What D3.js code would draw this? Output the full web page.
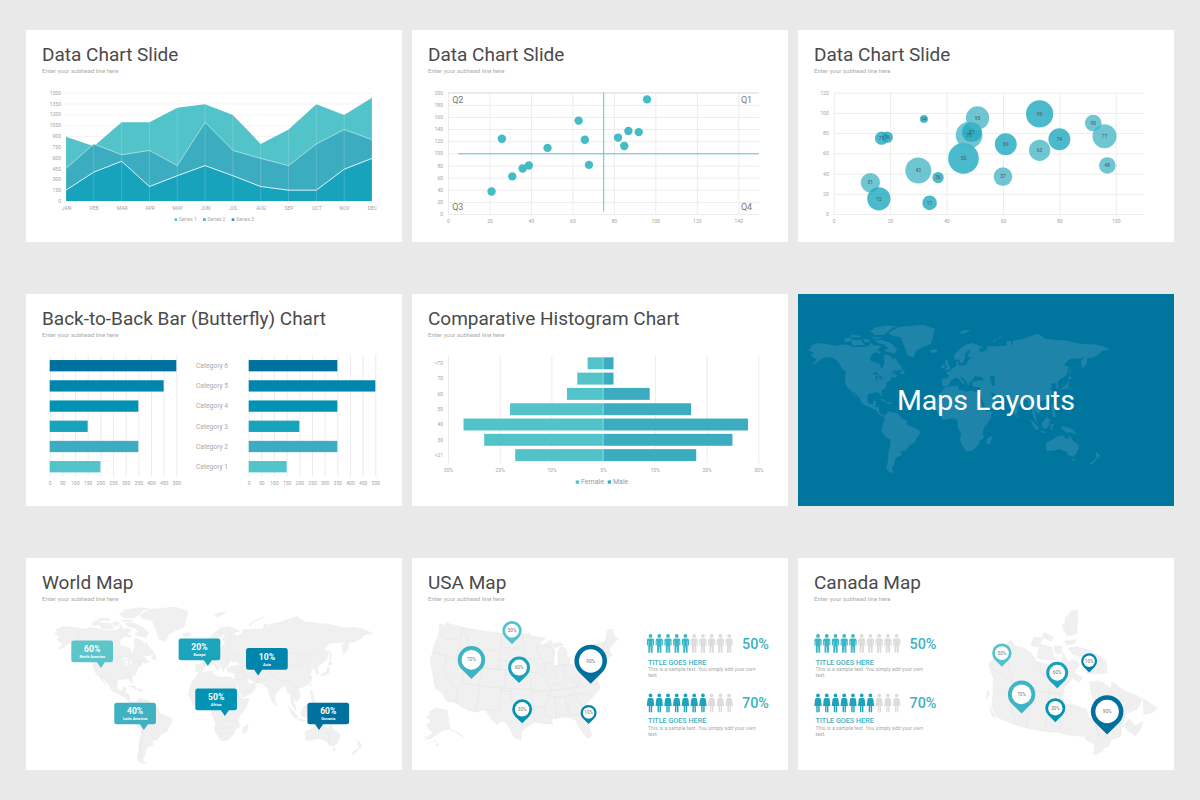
<!DOCTYPE html>
<html><head><meta charset="utf-8">
<script src="https://cdn.jsdelivr.net/npm/d3@7"></script>
<style>
html,body{margin:0;padding:0;background:#e9e9e9}
svg{display:block}
text{font-family:Roboto,sans-serif}
</style></head><body>
<svg id="c" width="1200" height="800"></svg>
<script>
/* ---------- palette ---------- */
const teal = ["#51c3c9","#3cadc0","#18a3bc","#0093b4","#0086ac","#00709e"];

/* ---------- panel 1: area chart ---------- */
const months = ["JAN","FEB","MAR","APR","MAY","JUN","JUL","AUG","SEP","OCT","NOV","DEC"];
const series1 = [890,760,1090,1090,1290,1340,1190,790,990,1340,1190,1430];
const series2 = [450,790,640,700,490,1090,700,590,490,790,990,850];
const series3 = [150,400,550,200,350,490,350,200,150,150,440,590];
const areaTicks = [0,150,300,450,600,750,900,1050,1200,1350,1500];

/* ---------- panel 2: quadrant scatter ---------- */
const scatterX = [96,63,26,66,82,87,92,85,48,68,39,36,31,21];
const scatterY = [189,154,124,122.5,126,137,135,112,109,81,80,75,62,37];
const quadrantNames = ["Q1","Q2","Q3","Q4"];

/* ---------- panel 3: bubbles ---------- */
const bubbleX = [13,16,17,19,32,30,37,34,46,48,49,51,60,61,73,73,80,92,96,97];
const bubbleY = [31,15,75,76,94,43,36,11,55,78,81,95,37,69,99,63,74,90,77,48];
const bubbleSize = [29,35,20,17,12,39,17,22,46,40,30,35,28,33,41,32,33,25,36,25];
const bubbleShade = [0,1,1,1,1,0,1,1,1,0,1,0,0,1,1,0,1,0,0,0];

/* ---------- panel 4: butterfly ---------- */
const butterflyCats = ["Category 6","Category 5","Category 4","Category 3","Category 2","Category 1"];
const butterflyLeft = [500,450,350,150,350,200];
const butterflyRight = [350,500,350,200,350,150];

/* ---------- panel 5: comparative histogram ---------- */
const ageGroups = [">70","70","60","50","40","30","<21"];
const female = [3,5,7,18,27,23,17];
const male = [2,2,9,17,28,25,18];

/* ---------- map callouts and pins ---------- */
const worldPct = ["60%","20%","10%","50%","40%","60%"];
const worldNames = ["North America","Europe","Asia","Africa","Latin America","Oceania"];
const worldTips = [[-115.6,40],[4.6,41.6],[61.2,33.5],[23.8,-3],[-67.3,-20],[129.7,-20]];
const worldShade = ["#5cc5ca","#1da4bd","#0086ac","#0093b4","#3fb1c2","#00709e"];
const worldTail = [0.71,0.70,0.29,0.71,0.71,0.28];

const usaPins = [[-100.5,46.7],[-111.5,38.2],[-98,38.3],[-78,36.8],[-97,29.5],[-80.4,28.2]];
const canadaPins = [[-134,62],[-113.5,52.5],[-97.5,61.5],[-76,46.7],[-97.5,51.8],[-76,65]];
const pinLabels = ["50%","70%","60%","90%","30%","10%"];
const pinSizes = [9.7,13.7,11,16.3,10,8];
const pinShade = ["#51c3c9","#3fb4c4","#18a3bc","#00709e","#0093b4","#0086ac"];

const peopleRows = [{pct:"50%",on:5,kind:"m"},{pct:"70%",on:7,kind:"f"}];

/* ---------- land outlines, lon/lat ---------- */
const northAmerica = [[-168,65.5],[-164,67],[-166,68.5],[-157,71],[-150,70.5],[-141,69.6],[-135,69],[-128,70],[-120,69.5],[-115,68],[-108,68],[-101,68],[-95,69],[-94,72],[-90,69],[-85,69.5],[-81,68],[-86,66],[-88,64],[-93,62],[-94.5,59],[-92.5,57],[-88,56.5],[-82.5,55],[-82,52.5],[-79.5,51.5],[-79,54],[-77,56],[-78,59],[-77.5,62.3],[-73,62],[-70,61],[-67,58.5],[-65,60],[-61,56],[-57,53],[-56,51.5],[-60,50],[-66,50],[-70,47],[-65,48.5],[-64.5,46],[-61,46],[-63.5,44.5],[-66,43.5],[-67,45],[-70,43.5],[-70.5,41.7],[-74,40.5],[-75.5,38],[-76,35],[-78,34],[-81,32],[-80.5,28],[-80.2,25.3],[-81.5,25.5],[-82.8,28],[-84,30],[-89,30],[-90,29],[-94,29.5],[-97,28],[-97.7,24],[-97,20],[-94.5,18],[-91,18.5],[-90.5,21],[-87,21.5],[-88,17],[-88.5,15.8],[-84,15.8],[-83.5,11],[-81,9],[-78,9.3],[-77.5,8],[-80,7.3],[-85,10],[-87.5,13],[-92,14.5],[-96,16],[-102,18],[-105.5,20],[-106,23],[-109,26],[-112.5,30],[-114.7,31.5],[-112,26.5],[-110,23],[-112,25],[-115,29],[-117,32.5],[-120.5,34.5],[-122.5,37.5],[-124,40],[-124,46],[-123,49],[-127,51],[-130,54.5],[-134,58],[-140,60],[-146,60.5],[-152,59],[-158,56],[-164,54.5],[-158,58.5],[-162,60],[-165,62],[-161,64]];
const southAmerica = [[-77.5,8],[-72,12],[-68,11],[-62,10.5],[-57,6],[-51,4],[-50,0],[-44,-2.5],[-37,-5],[-35,-8],[-39,-15],[-41,-22],[-48,-26],[-49,-29],[-53,-34],[-58,-34.5],[-57,-38],[-62,-39],[-65,-42],[-66,-47],[-69,-51],[-65,-55],[-72,-54],[-75,-50],[-73,-42],[-73,-37],[-71,-30],[-70,-18],[-76,-14],[-81,-6],[-80,-2],[-79,1],[-77.5,4]];
const africa = [[-6,35.5],[3,37],[10,37.3],[11,33.5],[20,31],[25,32],[32,31],[34.5,28],[37,21],[39,15.5],[43,11.5],[51,12],[48,5],[41,-2],[39,-7],[40.5,-15],[35,-20],[35,-24],[32,-28],[27,-34],[20,-35],[18,-33],[15,-27],[12,-17],[13.5,-10],[9,-1],[9.5,4],[5,6],[-4,5],[-8,4.5],[-13,9],[-17,14.5],[-16,20],[-13,27],[-9.5,31]];
const eurasia = [[-9,37],[-9,43],[-2,43.5],[-1,46],[-4.5,48.3],[1.5,50.5],[4,52],[8,54],[8,57],[10.5,57.5],[10,54.5],[14,54],[19,54.5],[21,57],[24,59.3],[30,60],[23,60],[21,62],[25,65.5],[22,65.5],[17.5,62],[18.5,60],[16,56],[13,55.5],[11,59],[6,58],[5,62],[13,67],[20,70],[28,71],[40,67.5],[34,66.5],[37,64],[44,66],[44,68.5],[54,68.5],[60,69],[67,69],[68,72.5],[73,72],[75,68],[75,72.5],[85,73.5],[100,76.5],[105,77.5],[113,74],[128,73],[140,72.5],[150,71],[160,70],[170,70],[180,69],[190,66],[180,65],[177,62.5],[170,60],[163,59.5],[162,55],[157,51],[155.5,57],[160,61],[155,59.5],[142,59],[135,54.5],[141,53],[138,46],[130,42.5],[127.5,39.5],[129.5,36],[126.5,34.5],[126,37.5],[125,39.7],[121,39],[118,39],[122,37],[119,35],[122,31],[121,28],[117,23.5],[110,21],[106,20],[109,14],[105,9],[100,13.5],[103,5],[104,1.5],[100,6],[98,10],[97.5,16],[94,17],[92,21.5],[89,22],[86,20],[80.5,15.5],[80,10],[77.5,8],[74,15],[72.5,20],[69,22],[67,25],[61,25.5],[57,26],[56,27],[50,30],[48,30],[51,25],[54,24.3],[56,26],[59.7,22.5],[55,17],[45,13],[43,13],[39,21],[35,28],[34.5,31],[36,36],[30,36.3],[27,37],[26.5,40],[29,41],[35,42],[41,41.5],[37,45],[33,44.8],[30,46],[28,43],[26,40.8],[23,40],[22.7,36.7],[19.5,41],[14,45],[12.5,44],[18,40],[16,38],[12,42],[8.5,44],[3,43],[0,39.5],[-2,37],[-6,36.3]];
const australia = [[114,-22],[122,-18],[126,-14],[130,-12],[136,-12],[136,-15],[140,-17.5],[142,-11],[146,-19],[153,-26],[153,-31],[150,-37],[146,-39],[141,-38],[138,-35],[135,-34.5],[131,-31.5],[124,-33.5],[115,-34.5],[114,-26]];
const greenland = [[-73,78],[-60,82],[-32,83.5],[-18,81],[-20,75],[-22,70.5],[-32,68],[-40,65],[-43,60],[-50,62],[-54,69],[-58,75],[-68,76]];
const arcticIslands = [
 [[-80,73],[-72,71.5],[-68,70],[-62,66.5],[-65,63],[-72,64],[-78,65],[-73,67],[-78,70],[-85,71],[-89,73]],
 [[-117,73],[-105,73],[-101,69.5],[-115,69]],
 [[-125,74],[-116,75],[-118,72],[-124,71.5]],
 [[-90,76.5],[-78,76.5],[-68,81.5],[-62,82.5],[-75,83],[-90,81.5]],
 [[-92,75],[-80,75],[-82,74],[-91,74]],
 [[-117,76.5],[-106,76],[-106,74.8],[-117,75]],
 [[-86,65.8],[-81,64],[-84,62.8],[-87,64]],
 [[-103,73.5],[-95,73.5],[-96,71.5],[-101,71.5]],
 [[-95,79.5],[-88,80.5],[-86,78],[-92,77.5]]
];
const otherIslands = [
 [[-59,47.7],[-55.5,51.5],[-53,47],[-55.5,46.8]],
 [[-84.5,22],[-80,23],[-74.5,20.2],[-77.5,19.9],[-82,22.2]],
 [[-74,19.8],[-69,19.5],[-68.5,18.4],[-74,18.2]],
 [[-24,65.5],[-16,66.4],[-14,65],[-19,63.4],[-22.5,64]],
 [[-5.5,50.2],[1.5,51.3],[0,53.5],[-2,56],[-2,57.7],[-5,58.5],[-5.5,55],[-3,53.5],[-5,52]],
 [[-10,52],[-6,52.2],[-6,55],[-10,54]],
 [[15,77],[25,80],[18,80],[12,78.5]],
 [[52,71],[56,74],[68,77],[58,75],[52,72.5]],
 [[131,33],[136,33.5],[141,36],[141.5,40],[140,41],[138,37],[133,35.5]],
 [[140,42],[145,43.5],[142,45.5]],
 [[142,46],[143.5,50],[142.5,54],[142,50]],
 [[120,22],[122,25],[120,24]],
 [[120,18.5],[122,18],[124,13],[126,7],[122,7],[121,14]],
 [[95,5.5],[100,2],[106,-3],[104,-6],[100,-3]],
 [[105,-6],[110,-6.5],[115,-8],[110,-8.5]],
 [[109,1.5],[115,7],[119,5],[118,1],[115,-4],[110,-3]],
 [[119.5,0.5],[125,1.5],[122,-1],[122,-5],[120,-5.5]],
 [[131,-1],[137,-2],[141,-2.5],[147,-6],[150.5,-10.5],[144,-8],[138,-8],[133,-4]],
 [[80,9.5],[82,7.5],[81,6],[80,7]],
 [[44,-17],[49.5,-12],[50,-16],[47,-25],[44,-24]],
 [[172.7,-34.5],[178,-38],[175,-41.5],[174,-39]],
 [[173,-41],[174,-42],[168,-47],[166.5,-45.8]],
 [[145,-41],[148,-41],[147,-43.5],[146,-43.5]]
];
const lakes = [
 [[47,45],[53,46],[53,40],[54,37],[50,37],[49,41]],
 [[-92,47],[-88,49],[-85,47.5],[-85,46.7],[-88,46.8]],
 [[-87.7,46],[-85,45.7],[-86,42],[-87.6,41.7]],
 [[-84,46],[-80,45],[-82,43],[-83.5,44]],
 [[-83,42],[-79,42.8],[-79,43.4],[-76,44],[-79,43.8],[-82.5,42.5]]
];
const worldBorders = [
 [[-123,49],[-95,49],[-89,48],[-84,46],[-82.5,42],[-79,43],[-75,45],[-71,45],[-68,47.3],[-67,45]],
 [[-141,69.6],[-141,60],[-134,58]],
 [[-117,32.5],[-111,31.3],[-106.5,31.8],[-103,29],[-99.5,27.5],[-97.2,26]],
 [[-92,14.5],[-91,17],[-88,18]],
 [[-51,4],[-60,5],[-60,1],[-70,2],[-70,-4],[-74,-7],[-70,-11],[-65,-10],[-60,-14],[-58,-20],[-55,-24],[-54,-27],[-57,-30],[-53,-34]],
 [[-69,-18],[-67,-23],[-70,-33],[-72,-50],[-69,-52]],
 [[-70,-4],[-75,-1],[-79,-3]],
 [[-72,12],[-72,7],[-67,6],[-67,1.5]],
 [[-13,27],[-9,27],[-5,25],[3,19],[12,23],[25,20],[25,32]],
 [[25,22],[37,22]],[[3,19],[3,12]],[[15,23],[15,13],[9,4]],
 [[24,20],[24,10],[30,4],[41,4]],[[12,-5],[30,-8],[40,-11]],
 [[12,-17],[24,-18],[33,-15]],[[20,-18],[20,-29],[17,-29]],[[25,-25],[32,-26]],
 [[30,60],[29,70]],[[24,54],[32,52],[40,50],[48,46]],
 [[50,42],[60,43],[70,41],[80,42],[85,49],[87,49],[100,52],[115,50],[125,53],[135,48],[131,43]],
 [[87,49],[97,42],[110,43],[120,47]],
 [[80,42],[74,37],[78,32],[88,28],[97,28],[99,22],[106,22]],
 [[44,38],[46,32],[48,30]],[[61,25],[61,36],[54,37]],[[61,30],[70,28],[74,37]],
 [[36,36],[44,37],[44,40],[41,41.5]],[[35,29],[48,29]],[[43,17],[52,19],[56,23]],
 [[-2,43.5],[3,43]],[[2,51],[8,48],[14,46],[8,45]],[[8,54],[14,51],[24,50],[28,45]],
 [[129,-15],[129,-31]],[[138,-17],[138,-26],[141,-26],[141,-38]]
];

const usaOutline = [[-124.7,48.4],[-123,48.3],[-122.8,49],[-95.2,49],[-95.1,49.4],[-94.6,48.7],[-92,48.3],[-89.6,48],[-92,46.7],[-90.5,46.6],[-88,47.5],[-87.5,46.5],[-85,46.7],[-84.5,46.4],[-84,46],[-85,46],[-87,45.7],[-88,44.6],[-87,45.2],[-87.7,43],[-87.6,41.7],[-86.5,41.8],[-86.3,43.5],[-86,44.9],[-85,45.7],[-84,45.5],[-83.3,44.8],[-83.5,43.7],[-82.5,43],[-83.1,42],[-82.5,41.5],[-79,42.7],[-79,43.3],[-76.5,43.5],[-76,44.2],[-75,45],[-71.5,45],[-70.8,45.4],[-70,46.7],[-69.2,47.4],[-68,47.3],[-67.8,45.7],[-67,44.9],[-69,44],[-70.5,43.3],[-70.7,42.5],[-70,41.8],[-71.5,41.4],[-74,40.7],[-74,39.7],[-75,38.9],[-75.5,39.5],[-75.3,38],[-76,37],[-75.7,35.3],[-77.5,34.3],[-79,33.3],[-81,32],[-81.4,30.5],[-80.5,28],[-80.1,25.6],[-81,25.1],[-81.8,26],[-82.8,27.8],[-83.5,29.5],[-84.5,30],[-86,30.4],[-88.5,30.3],[-89.5,30.2],[-89.3,29.1],[-91,29.3],[-93.8,29.7],[-95,29.2],[-97.2,27.7],[-97.2,26],[-99,26.4],[-99.5,27.5],[-101,29.5],[-102.5,29.8],[-103.2,29],[-104.5,29.7],[-106.5,31.8],[-108.2,31.8],[-108.2,31.3],[-111,31.3],[-114.8,32.5],[-117.1,32.5],[-118.5,34],[-120.6,34.5],[-122,36.8],[-123.8,39.5],[-124.3,40.4],[-124.2,42],[-124.5,43],[-124,46.2]];
const usaStates = [
 [[-124,46.2],[-123,46.2],[-122,45.6],[-119,46],[-116.9,46]],
 [[-117,49],[-117,46],[-116.5,45.5],[-117,44.3],[-117,42]],
 [[-124.2,42],[-111,42]],
 [[-116,49],[-116,48],[-114.5,46.6],[-114.5,45.5],[-113,44.5],[-111,44.5]],
 [[-111,45],[-104,45],[-104,41],[-111,41],[-111,45]],
 [[-120,42],[-120,39],[-114.6,35],[-114.7,32.7]],
 [[-114,42],[-114,37]],[[-114,36.2],[-114.6,36]],
 [[-114,37],[-102,37]],
 [[-109,41],[-109,31.3]],
 [[-109,41],[-102,41],[-102,37]],
 [[-103,37],[-103,32],[-106.6,32]],
 [[-103,36.5],[-100,36.5],[-100,34.6],[-97,33.9],[-94.5,33.6]],
 [[-102,40],[-95.3,40]],[[-102,37],[-94.6,37]],
 [[-104,43],[-98.5,43],[-96.5,42.5]],
 [[-104,49],[-104,45]],[[-104,45.9],[-96.6,45.9]],
 [[-97.2,49],[-96.6,46],[-96.5,43.5],[-96.5,42.5],[-95.3,40],[-94.6,39],[-94.6,36.5],[-94.4,35.4],[-94.5,33.6],[-94,33],[-94,31],[-93.7,30]],
 [[-96.5,43.5],[-91.2,43.5]],[[-95.8,40.6],[-91.7,40.6]],
 [[-92,46.7],[-92.8,45.5],[-91.2,43.5],[-91,42.5],[-90.2,41.8],[-91,41],[-91.4,40.4],[-91.5,40],[-90.5,38.9],[-90,38.5],[-89.2,37],[-89.5,36.5],[-90,35],[-91,33],[-91.5,31],[-89.7,31],[-89.7,30.3]],
 [[-94.6,36.5],[-90,36.5]],[[-94,33],[-91,33]],
 [[-88.2,35],[-88.4,30.3]],
 [[-90,35],[-84.3,35],[-81.7,36.6]],[[-89.5,36.5],[-81.7,36.6],[-75.9,36.6]],
 [[-85.6,35],[-85,32.3],[-85,31],[-87.5,31],[-87.5,30.3]],[[-85,30.7],[-82,30.6],[-81.5,30.7]],
 [[-83,35],[-81,32]],[[-84.3,35],[-82,35.2],[-81,35],[-79,34.3],[-78.5,33.9]],
 [[-90.6,42.5],[-87.8,42.5]],
 [[-87.5,41.7],[-87.5,39],[-88,37.9]],
 [[-84.8,41.7],[-84.8,39.1]],
 [[-87,41.8],[-83.5,41.7]],
 [[-89.2,37],[-88,37.9],[-86,38],[-84.8,39.1],[-82.6,38.4],[-81,39.5],[-80.5,40.6]],
 [[-82.6,38.4],[-82,37.5],[-81.7,36.6]],
 [[-80.5,42],[-80.5,39.7]],[[-80.5,39.7],[-75.7,39.7]],
 [[-79.7,42.2],[-79,42],[-75.3,42],[-75,41.4],[-75,40]],
 [[-75,41.4],[-73.9,41]],
 [[-73.4,45],[-73.3,42.7],[-73.5,41.2]],
 [[-73.3,42.7],[-71.3,42.7]],[[-73.5,42],[-71.5,42]],
 [[-71.5,45],[-72.5,42.7]],[[-71,45.2],[-70.7,43]],
 [[-81.7,37.3],[-80,38],[-78.3,39.5],[-77.7,39.3],[-76.5,38.3]],
 [[-90.5,46.6],[-88,45.8],[-87.6,45.1]]
];
const alaska = [[-168,65.5],[-164,67],[-166,68.5],[-157,71],[-150,70.5],[-141,69.6],[-141,60.3],[-137.5,59],[-134,58],[-130,55],[-132,56],[-136,58.5],[-140,60],[-146,60.5],[-152,59],[-158,56],[-164,54.5],[-158,58.5],[-162,60],[-165,62],[-161,64]];
const hawaii = [[[-155.9,19.5],[-155.2,19.6],[-155.7,20.2]],[[-156.7,20.9],[-156,20.7],[-156.4,20.6]],[[-158.2,21.5],[-157.7,21.4],[-158,21.7]],[[-159.7,22],[-159.3,22],[-159.5,22.2]]];

const canadaMain = [[-141,69.6],[-135,69],[-128,70],[-120,69.5],[-115,68],[-108,68],[-101,68],[-95,69],[-94,72],[-90,69],[-85,69.5],[-81,68],[-86,66],[-88,64],[-93,62],[-94.5,59],[-92.5,57],[-88,56.5],[-82.5,55],[-82,52.5],[-79.5,51.5],[-79,54],[-77,56],[-78,59],[-77.5,62.3],[-73,62],[-70,61],[-67,58.5],[-65,60],[-61,56],[-57,53],[-56,51.5],[-60,50],[-66,50],[-70,47],[-65,48.5],[-64.5,46],[-61,46],[-63.5,44.5],[-66,43.5],[-67,45],[-67.8,45.7],[-68,47.3],[-69.2,47.4],[-70,46.7],[-70.8,45.4],[-71.5,45],[-75,45],[-76,44.2],[-76.5,43.5],[-79,43.3],[-79,42.7],[-82.5,42],[-82.5,43],[-81.7,45],[-84,46],[-84.5,46.4],[-85,47.5],[-89.6,48],[-92,48.3],[-94.6,48.7],[-95.1,49.4],[-95.2,49],[-122.8,49],[-125,50],[-127,51],[-130,54.5],[-134,58],[-137.5,59],[-141,60.3]];
const canadaIslands = [[[-128,50.7],[-124,49],[-123.5,48.4],[-125.5,48.8]],[[-133,54],[-131.5,54],[-131,52]]].concat(arcticIslands,[otherIslands[0]]);
const canadaBorders = [
 [[-120,60],[-120,53.8],[-116,50.8],[-114,49]],
 [[-110,60],[-110,49]],[[-102,60],[-101.5,49]],
 [[-139,60],[-94.8,60]],
 [[-135,69],[-134,65],[-124,60]],
 [[-102,60],[-102,64.2],[-109,65],[-112,68]],
 [[-94.8,60],[-89,56.8],[-95.2,53],[-95.2,49.4]],
 [[-79.5,51.5],[-79.5,47],[-74.5,45.3]],
 [[-64,60],[-64,54],[-67,55],[-67,52],[-57,51.5]],
 [[-67.8,47],[-66,48]]
];

/* ---------- helpers ---------- */
const svg = d3.select("#c");
const AXIS = "#a3a3a3", GRID = "#ececec";

function densify(pts, closed){
  const src = closed ? pts.concat([pts[0]]) : pts, out = [];
  d3.pairs(src).forEach(([a,b])=>{
    const n = Math.ceil(Math.max(Math.abs(a[0]-b[0]),Math.abs(a[1]-b[1]))/2);
    for(let i=0;i<n;i++) out.push([a[0]+(b[0]-a[0])*i/n, a[1]+(b[1]-a[1])*i/n]);
  });
  out.push(src[src.length-1]);
  return out;
}
function geoLine(proj){ return d3.line().x(p=>proj(p)[0]).y(p=>proj(p)[1]); }
function drawPolys(g, polys, proj, fill, stroke){
  g.selectAll(null).data(polys).join("path")
    .attr("d",p=>geoLine(proj)(densify(p,true))+"Z")
    .attr("fill",fill).attr("stroke",stroke||"none").attr("stroke-width",stroke?0.4:0);
}
function drawLines(g, lines, proj, stroke, w){
  g.selectAll(null).data(lines).join("path")
    .attr("d",p=>geoLine(proj)(densify(p,false)))
    .attr("fill","none").attr("stroke",stroke).attr("stroke-width",w||0.5);
}
function panel(x,y,title,fill){
  const g = svg.append("g");
  g.append("rect").attr("x",x).attr("y",y).attr("width",376).attr("height",212).attr("fill",fill||"#fff");
  if(title){
    g.append("text").attr("x",x+16).attr("y",y+31).attr("font-size",19).attr("fill","#4a4a4a").text(title);
    g.append("text").attr("x",x+16).attr("y",y+42.5).attr("font-size",6.1).attr("fill","#aaa").text("Enter your subhead line here");
  }
  return g;
}
function styleAxis(sel,size,color){
  sel.select(".domain").remove();
  sel.selectAll("text").attr("font-size",size||5).attr("fill",color||AXIS).style("font-family","Roboto,sans-serif");
}

/* ---------- panel 1 ---------- */
(function(){
  const g = panel(26,30,"Data Chart Slide");
  const x = d3.scalePoint().domain(months).range([66,372]);
  const y = d3.scaleLinear().domain([0,1500]).range([201,92.7]);
  g.append("g").attr("transform","translate(66,0)")
    .call(d3.axisLeft(y).tickValues(areaTicks).tickFormat(d3.format("d")).tickSize(-306).tickPadding(5))
    .call(s=>styleAxis(s)).selectAll("line").attr("stroke","#f3f3f3");
  const sets = [series1,series2,series3];
  const area = d3.area().x((d,i)=>x(months[i])).y0(y(0)).y1(d=>y(d));
  const line = d3.line().x((d,i)=>x(months[i])).y(d=>y(d));
  sets.forEach((s,k)=>{
    g.append("path").attr("d",area(s)).attr("fill",teal[k]);
    g.selectAll(null).data(s).join("line")
      .attr("x1",(d,i)=>x(months[i])).attr("x2",(d,i)=>x(months[i]))
      .attr("y1",d=>y(d)).attr("y2",y(0)).attr("stroke","#fff").attr("stroke-opacity",0.22).attr("stroke-width",0.8);
    if(k>0) g.append("path").attr("d",line(s)).attr("fill","none").attr("stroke","#fff").attr("stroke-opacity",k==1?0.55:0.95).attr("stroke-width",0.9);
  });
  g.append("g").attr("transform","translate(0,201)")
    .call(d3.axisBottom(x).tickSize(0).tickPadding(5))
    .call(s=>styleAxis(s));
  const lg = g.selectAll(null).data(["Series 1","Series 2","Series 3"]).join("g")
    .attr("transform",(d,i)=>`translate(${174.5+i*28.6},219.6)`);
  lg.append("rect").attr("width",2.6).attr("height",2.6).attr("y",-1.3).attr("fill",(d,i)=>teal[i]);
  lg.append("text").attr("x",4.5).attr("y",1.8).attr("font-size",5).attr("fill","#aaa").text(d=>d);
})();

/* ---------- panel 2 ---------- */
(function(){
  const g = panel(412,30,"Data Chart Slide");
  const x = d3.scaleLinear().domain([0,150]).range([448,759]);
  const y = d3.scaleLinear().domain([0,200]).range([214,92.7]);
  g.append("g").attr("transform","translate(448,0)")
    .call(d3.axisLeft(y).tickValues(d3.range(0,201,20)).tickSize(-311).tickPadding(5))
    .call(s=>styleAxis(s)).selectAll("line").attr("stroke",GRID);
  g.append("g").attr("transform","translate(0,214)")
    .call(d3.axisBottom(x).tickValues(d3.range(0,141,20)).tickSize(-121.3).tickPadding(5))
    .call(s=>styleAxis(s)).selectAll("line").attr("stroke",(d,i)=>GRID);
  g.append("line").attr("x1",x(0)).attr("x2",x(150)).attr("y1",y(200)).attr("y2",y(200)).attr("stroke","#e8e8e8").attr("stroke-width",1.4);
  g.append("line").attr("x1",x(5)).attr("x2",x(150)).attr("y1",y(100)+0.4).attr("y2",y(100)+0.4).attr("stroke","#5cc4d0").attr("stroke-width",1);
  g.append("line").attr("x1",x(75)+0.2).attr("x2",x(75)+0.2).attr("y1",y(200)).attr("y2",y(4)).attr("stroke","#5cc4d0").attr("stroke-width",1);
  g.selectAll(null).data(scatterX).join("circle")
    .attr("cx",d=>x(d)).attr("cy",(d,i)=>y(scatterY[i])).attr("r",4.2).attr("fill","#44bcc6");
  const qx=[146.7,2,2,146.7], qy=[188,188,11,11];
  g.selectAll(null).data(quadrantNames).join("text")
    .attr("x",(d,i)=>x(qx[i])).attr("y",(d,i)=>y(qy[i])+3)
    .attr("text-anchor",(d,i)=>i==0||i==3?"end":"start")
    .attr("font-size",9).attr("fill","#777").text(d=>d);
})();

/* ---------- panel 3 ---------- */
(function(){
  const g = panel(798,30,"Data Chart Slide");
  const x = d3.scaleLinear().domain([0,110]).range([833.7,1144]);
  const y = d3.scaleLinear().domain([0,120]).range([214,92.7]);
  const r = d3.scaleLinear().domain([0,46]).range([0,15.3]);
  g.append("g").attr("transform","translate(833.7,0)")
    .call(d3.axisLeft(y).tickValues(d3.range(0,121,20)).tickSize(-310.3).tickPadding(5))
    .call(s=>styleAxis(s)).selectAll("line").attr("stroke",GRID);
  g.append("g").attr("transform","translate(0,214)")
    .call(d3.axisBottom(x).tickValues(d3.range(0,101,20)).tickSize(-121.3).tickPadding(5))
    .call(s=>styleAxis(s)).selectAll("line").attr("stroke",GRID);
  g.selectAll(null).data(bubbleX).join("circle")
    .attr("cx",d=>x(d)).attr("cy",(d,i)=>y(bubbleY[i])).attr("r",(d,i)=>r(bubbleSize[i]))
    .attr("fill",(d,i)=>bubbleShade[i]?"#1ea9c0":"#45b6c6").attr("fill-opacity",(d,i)=>bubbleShade[i]?0.8:0.78);
  g.selectAll(null).data(bubbleX).join("text")
    .attr("x",d=>x(d)).attr("y",(d,i)=>y(bubbleY[i])+1.8).attr("text-anchor","middle")
    .attr("font-size",5).attr("fill","#555").text((d,i)=>bubbleY[i]);
})();

/* ---------- panel 4 ---------- */
(function(){
  const g = panel(26,294,"Back-to-Back Bar (Butterfly) Chart");
  const y = d3.scaleBand().domain(butterflyCats).range([356,476.4]).paddingInner(0.44).paddingOuter(0.2);
  const colors = [teal[5],teal[4],teal[3],teal[2],teal[1],teal[0]];
  [[49.7,176.3,butterflyLeft],[248.7,375.3,butterflyRight]].forEach(([a,b,vals])=>{
    const x = d3.scaleLinear().domain([0,500]).range([a,b]);
    g.append("g").attr("transform","translate(0,476.7)")
      .call(d3.axisBottom(x).tickValues(d3.range(0,501,50)).tickSize(-122).tickPadding(4.5))
      .call(s=>styleAxis(s)).selectAll("line").attr("stroke",GRID);
    g.selectAll(null).data(vals).join("rect")
      .attr("x",a).attr("y",(d,i)=>y(butterflyCats[i])).attr("height",y.bandwidth())
      .attr("width",d=>x(d)-a).attr("fill",(d,i)=>colors[i]);
  });
  g.selectAll(null).data(butterflyCats).join("text")
    .attr("x",212).attr("y",d=>y(d)+y.bandwidth()/2+2.2).attr("text-anchor","middle")
    .attr("font-size",6.7).attr("fill","#aaa").text(d=>d);
})();

/* ---------- panel 5 ---------- */
(function(){
  const g = panel(412,294,"Comparative Histogram Chart");
  const x = d3.scaleLinear().domain([-30,30]).range([448,758.3]);
  const y = d3.scaleBand().domain(ageGroups).range([355.8,462.6]).paddingInner(0.22).paddingOuter(0.1);
  g.append("g").attr("transform","translate(0,463)")
    .call(d3.axisBottom(x).tickValues(d3.range(-30,31,10)).tickFormat(d=>Math.abs(d)+"%").tickSize(-108).tickPadding(5))
    .call(s=>styleAxis(s)).selectAll("line").attr("stroke",GRID);
  g.selectAll(null).data(female).join("rect").attr("x",d=>x(-d)).attr("y",(d,i)=>y(ageGroups[i]))
    .attr("width",d=>x(0)-x(-d)).attr("height",y.bandwidth()).attr("fill",teal[0]);
  g.selectAll(null).data(male).join("rect").attr("x",x(0)).attr("y",(d,i)=>y(ageGroups[i]))
    .attr("width",d=>x(d)-x(0)).attr("height",y.bandwidth()).attr("fill",teal[1]);
  g.append("line").attr("x1",x(0)).attr("x2",x(0)).attr("y1",356).attr("y2",462).attr("stroke","#fff").attr("stroke-opacity",.45).attr("stroke-width",.8);
  g.selectAll(null).data(ageGroups).join("text")
    .attr("x",443).attr("y",d=>y(d)+y.bandwidth()/2+1.8).attr("text-anchor","end")
    .attr("font-size",5).attr("fill",AXIS).text(d=>d);
  const lg = g.selectAll(null).data(["Female","Male"]).join("g")
    .attr("transform",(d,i)=>`translate(${575.7+i*32},482)`);
  lg.append("rect").attr("width",3.3).attr("height",3.3).attr("y",-1.6).attr("fill",(d,i)=>i?teal[1]:teal[0]);
  lg.append("text").attr("x",5.3).attr("y",2.4).attr("font-size",7).attr("fill","#999").text(d=>d);
})();

/* ---------- world projection ---------- */
const latKnots = [-56,-39,-35,-11,0,22,36,52,71,84];
const latZoom = [620,565,548,497,465,385,345,285,205,145];
function worldProj(lonA,lonB,yOf){
  const sx = d3.scaleLinear().domain([-168,190]).range([lonA,lonB]);
  const sy = d3.scaleLinear().domain(latKnots).range(latZoom.map(yOf));
  return p=>[sx(p[0]),sy(p[1])];
}
const allLand = [northAmerica,southAmerica,africa,eurasia,australia,greenland].concat(arcticIslands,otherIslands);

/* ---------- panel 6 ---------- */
(function(){
  const g = panel(798,294,null,"#00769f");
  const proj = worldProj(808,1110,z=>294+(540-(620-z)*0.947)/3);
  drawPolys(g,allLand,proj,"#1e84aa");
  drawPolys(g,lakes,proj,"#00769f");
  g.append("text").attr("x",986).attr("y",410).attr("text-anchor","middle")
    .attr("font-size",28.5).attr("fill","#fff").text("Maps Layouts");
})();

/* ---------- panel 7 ---------- */
(function(){
  const g = panel(26,558,"World Map");
  const proj = worldProj(54.3,372.7,z=>558+z/3);
  drawPolys(g,allLand,proj,"#f0f0f0","#e8e8e8");
  drawPolys(g,lakes,proj,"#fff");
  drawLines(g,worldBorders,proj,"#e2e2e2",0.4);
  const W=41.7,H=21.7;
  const c = g.selectAll(null).data(worldPct).join("g")
    .attr("transform",(d,i)=>{const t=proj(worldTips[i]);return `translate(${t[0]},${t[1]})`;});
  c.append("path").attr("fill",(d,i)=>worldShade[i]).attr("d",(d,i)=>{
    const left=-W*worldTail[i], top=-5.7-H;
    const p=d3.path();
    p.moveTo(left+2.5,top); p.lineTo(left+W-2.5,top); p.arcTo(left+W,top,left+W,top+2.5,2.5);
    p.lineTo(left+W,top+H-2.5); p.arcTo(left+W,top+H,left+W-2.5,top+H,2.5);
    p.lineTo(4,top+H); p.lineTo(0,0); p.lineTo(-4,top+H);
    p.lineTo(left+2.5,top+H); p.arcTo(left,top+H,left,top+H-2.5,2.5);
    p.lineTo(left,top+2.5); p.arcTo(left,top,left+2.5,top,2.5); p.closePath();
    return p.toString();
  });
  const cx=(i)=>-W*worldTail[i]+W/2;
  c.append("text").attr("x",(d,i)=>cx(i)).attr("y",-5.7-H+11.6).attr("text-anchor","middle")
    .attr("font-size",8.6).attr("font-weight",700).attr("fill","#fff").text(d=>d);
  c.append("text").attr("x",(d,i)=>cx(i)).attr("y",-5.7-H+17.6).attr("text-anchor","middle")
    .attr("font-size",3.9).attr("font-weight",700).attr("fill","#fff").text((d,i)=>worldNames[i]);
})();

/* ---------- pins and people ---------- */
function drawPins(g,proj,pts){
  const c = g.selectAll(null).data(pts).join("g")
    .attr("transform",d=>{const t=proj(d);return `translate(${t[0]},${t[1]})`;});
  c.append("path").attr("fill",(d,i)=>pinShade[i]).attr("d",(d,i)=>{
    const R=pinSizes[i],D=1.4*R,a=Math.asin(R/D),p=d3.path();
    p.moveTo(0,0); p.arc(0,-D,R,a,Math.PI-a,true); p.closePath();
    return p.toString();
  });
  c.append("circle").attr("cy",(d,i)=>-1.4*pinSizes[i]).attr("r",(d,i)=>pinSizes[i]*0.72).attr("fill","#fff");
  c.append("text").attr("y",(d,i)=>-1.4*pinSizes[i]+1.6).attr("text-anchor","middle")
    .attr("font-size",4.7).attr("fill","#777").text((d,i)=>pinLabels[i]);
}
function personPath(kind){
  const p=d3.path();
  p.arc(4,1.9,1.9,0,2*Math.PI); p.closePath();
  if(kind==="m"){
    p.moveTo(2,4.4); p.lineTo(6,4.4); p.quadraticCurveTo(7.6,4.4,7.6,6);
    p.lineTo(7.6,11.6); p.lineTo(6.5,11.6); p.lineTo(6.5,7); p.lineTo(6.2,7); p.lineTo(6.2,18.7); p.lineTo(4.4,18.7); p.lineTo(4.2,12.5);
    p.lineTo(3.8,12.5); p.lineTo(3.6,18.7); p.lineTo(1.8,18.7); p.lineTo(1.8,7); p.lineTo(1.5,7); p.lineTo(1.5,11.6); p.lineTo(0.4,11.6);
    p.lineTo(0.4,6); p.quadraticCurveTo(0.4,4.4,2,4.4); p.closePath();
  } else {
    p.moveTo(2.4,4.4); p.lineTo(5.6,4.4); p.quadraticCurveTo(6.8,4.5,7,6);
    p.lineTo(7.7,12.5); p.lineTo(5.7,12.5); p.lineTo(5.7,18.7); p.lineTo(4.3,18.7); p.lineTo(4.3,12.5);
    p.lineTo(3.7,12.5); p.lineTo(3.7,18.7); p.lineTo(2.3,18.7); p.lineTo(2.3,12.5); p.lineTo(0.3,12.5);
    p.lineTo(1,6); p.quadraticCurveTo(1.2,4.5,2.4,4.4); p.closePath();
  }
  return p.toString();
}
function drawPeople(g,x0,y0){
  peopleRows.forEach((row,k)=>{
    const top=y0+k*59.5;
    g.selectAll(null).data(d3.range(10)).join("path")
      .attr("transform",i=>`translate(${x0+i*8.74},${top})`)
      .attr("d",personPath(row.kind))
      .attr("fill",i=>i<row.on?(k?"#1ea3bb":"#3cb6c6"):"#dcdcdc");
    const t=y0+k*58.7;
    g.append("text").attr("x",x0+95.5).attr("y",t+15.4).attr("font-size",14.4).attr("font-weight",500).attr("fill","#3cb1c3").text(row.pct);
    g.append("text").attr("x",x0+1.5).attr("y",t+30.5).attr("font-size",7.2).attr("font-weight",500).attr("fill","#3cb1c3").text("TITLE GOES HERE");
    g.append("text").attr("x",x0+1.5).attr("y",t+37).attr("font-size",5.2).attr("fill","#aaa").text("This is a sample text. You simply add your own");
    g.append("text").attr("x",x0+1.5).attr("y",t+42.8).attr("font-size",5.2).attr("fill","#aaa").text("text.");
  });
}

/* ---------- panel 8 ---------- */
(function(){
  const g = panel(412,558,"USA Map");
  const Z=(x,y)=>[412+x/3,558+y/3];
  const proj = d3.geoAlbers().fitExtent([Z(55,188),Z(618,550)],{type:"MultiPoint",coordinates:usaOutline});
  drawPolys(g,[usaOutline],proj,"#f0f0f0","#e6e6e6");
  drawLines(g,usaStates,proj,"#e0e0e0",0.45);
  const ak = d3.geoAlbers().rotate([150,0]).center([0,62]).parallels([55,65]).fitExtent([Z(38,445),Z(155,550)],{type:"MultiPoint",coordinates:alaska});
  drawPolys(g,[alaska],ak,"#f0f0f0","#e6e6e6");
  const hi = d3.geoAlbers().rotate([157,0]).center([0,20]).parallels([8,18]).fitExtent([Z(38,528),Z(80,568)],{type:"MultiPoint",coordinates:hawaii.flat()});
  drawPolys(g,hawaii,hi,"#ececec","#e6e6e6");
  drawPins(g,proj,usaPins);
  drawPeople(g,646.5,634);
})();

/* ---------- panel 9 ---------- */
(function(){
  const g = panel(798,558,"Canada Map");
  const Z=(x,y)=>[798+x/3,558+y/3];
  const proj = d3.geoConicConformal().rotate([94,0]).parallels([49,77]).fitExtent([Z(573,155),Z(1078,592)],{type:"MultiPoint",coordinates:canadaMain.concat(arcticIslands.flat(),otherIslands[0])});
  drawPolys(g,[canadaMain].concat(canadaIslands),proj,"#f0f0f0","#e6e6e6");
  drawLines(g,canadaBorders,proj,"#e0e0e0",0.45);
  drawPins(g,proj,canadaPins);
  drawPeople(g,814,634);
})();
</script>
</body></html>
